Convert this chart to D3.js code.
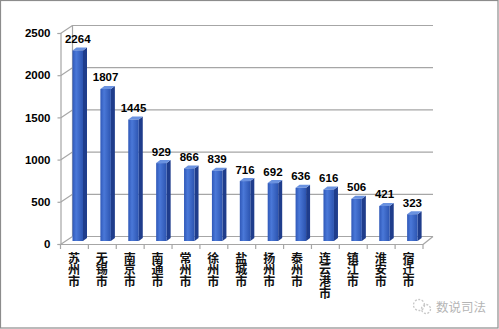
<!DOCTYPE html>
<html><head><meta charset="utf-8">
<script src="https://cdn.jsdelivr.net/npm/d3@7"></script>
<style>body{margin:0;background:#fff}svg{display:block}</style>
</head><body>
<script>
const categories = ["苏州市","无锡市","南京市","南通市","常州市","徐州市","盐城市","扬州市","泰州市","连云港市","镇江市","淮安市","宿迁市"];
const values = [2264,1807,1445,929,866,839,716,692,636,616,506,421,323];
const yTicks = [0,500,1000,1500,2000,2500];
const watermark = "数说司法";

const W = 499, H = 329;
const DX = 12, DY = -8; // depth offset of the back wall
const svg = d3.select("body").append("svg").attr("width", W).attr("height", H);

svg.append("rect").attr("x",0.5).attr("y",0.5).attr("width",W-1.5).attr("height",H-1.5)
  .attr("fill","#fff").attr("stroke","#8c8c8c").attr("stroke-width",1.2);

const x = d3.scaleBand().domain(categories).range([60.5, 423]).paddingInner(0).paddingOuter(0);
const y = d3.scaleLinear().domain([0,2500]).range([244, 33]);

const grid = "#a6a6a6";
const g = svg.append("g");

g.selectAll("line.grid").data(yTicks).join("line")
  .attr("x1",60.5+DX).attr("x2",433).attr("y1",d=>y(d)+DY+0.5).attr("y2",d=>y(d)+DY+0.5)
  .attr("stroke",grid).attr("stroke-width",1.2);
g.selectAll("line.diag").data(yTicks).join("line")
  .attr("x1",60.5).attr("y1",d=>y(d)+0.5).attr("x2",60.5+DX).attr("y2",d=>y(d)+DY+0.5)
  .attr("stroke",grid).attr("stroke-width",1.2);
g.append("line").attr("x1",60.5+DX).attr("x2",60.5+DX).attr("y1",y(2500)+DY).attr("y2",y(0)+DY)
  .attr("stroke",grid).attr("stroke-width",1.2);
g.append("line").attr("x1",60.5).attr("x2",423).attr("y1",y(0)+0.5).attr("y2",y(0)+0.5)
  .attr("stroke",grid).attr("stroke-width",1.2);
g.append("line").attr("x1",423).attr("y1",y(0)+0.5).attr("x2",433).attr("y2",y(0)+DY+0.5)
  .attr("stroke",grid).attr("stroke-width",1.2);
const bounds = categories.map(c=>x(c)).concat([x(categories[categories.length-1])+x.bandwidth()]);
g.selectAll("line.ctick").data(bounds).join("line")
  .attr("x1",d=>d).attr("x2",d=>d).attr("y1",y(0)).attr("y2",y(0)+5)
  .attr("stroke",grid).attr("stroke-width",1.2);

const ax = svg.append("g").attr("transform","translate(60.5,0)")
  .call(d3.axisLeft(y).tickValues(yTicks).tickSize(3).tickPadding(7).tickFormat(d3.format("d")));
ax.select(".domain").attr("stroke",grid).attr("stroke-width",1.2);
ax.selectAll(".tick line").attr("stroke",grid).attr("stroke-width",1.2);
ax.selectAll(".tick text").attr("font-family","'Liberation Sans',Arial,sans-serif")
  .attr("font-weight","bold").attr("font-size","11.5px").attr("fill","#000");

const defs = svg.append("defs");
const gf = defs.append("linearGradient").attr("id","front").attr("x1","0").attr("x2","1");
gf.append("stop").attr("offset","0").attr("stop-color","#2f58b8");
gf.append("stop").attr("offset","0.35").attr("stop-color","#4a78d8");
gf.append("stop").attr("offset","1").attr("stop-color","#2c54b0");

const bw = 10.5, sd = 4, st = -3;
const bars = svg.append("g").selectAll("g").data(values).join("g");
bars.each(function(v,i){
  const sel = d3.select(this);
  const x0 = x(categories[i]) + 12;
  const yt = y(v) - 4 + 1.5;
  const yb = y(0) - 3;
  sel.append("path").attr("d",`M${x0+bw},${yt}L${x0+bw+sd},${yt+st}L${x0+bw+sd},${yb+st}L${x0+bw},${yb}Z`)
    .attr("fill","#1f3d8c");
  sel.append("path").attr("d",`M${x0},${yt}L${x0+sd},${yt+st}L${x0+bw+sd},${yt+st}L${x0+bw},${yt}Z`)
    .attr("fill","#6a92e0");
  sel.append("rect").attr("x",x0).attr("y",yt).attr("width",bw).attr("height",yb-yt)
    .attr("fill","url(#front)");
  sel.append("text").attr("x",x0+bw/2).attr("y",yt+st-4.5).attr("text-anchor","middle")
    .attr("font-family","'Liberation Sans',Arial,sans-serif").attr("font-weight","bold")
    .attr("font-size","11.5px").attr("fill","#000").text(v);
});

// category labels (vertical writing)
svg.append("g").selectAll("text").data(categories).join("text")
  .attr("x",c=>x(c) + x.bandwidth()/2 - 0.5)
  .attr("y",252)
  .attr("writing-mode","vertical-rl")
  .style("writing-mode","vertical-rl")
  .style("text-orientation","upright")
  .attr("font-family","'Noto Sans CJK SC',sans-serif").attr("font-weight","bold")
  .attr("font-size","12px").attr("letter-spacing","-0.2px").attr("fill","#111")
  .text(c=>c);

const wm = svg.append("g").attr("fill","none").attr("stroke","#c8c8c8").attr("stroke-width",1.3);
wm.append("circle").attr("cx",419).attr("cy",305).attr("r",5.5).attr("stroke-dasharray","2,1.5");
wm.append("circle").attr("cx",426).attr("cy",309).attr("r",4.5).attr("stroke-dasharray","2,1.5");
svg.append("text").attr("x",436).attr("y",312).attr("font-family","'Noto Sans CJK SC',sans-serif")
  .attr("font-size","12.5px").attr("fill","#b5b5b5").text(watermark);
</script>
</body></html>
